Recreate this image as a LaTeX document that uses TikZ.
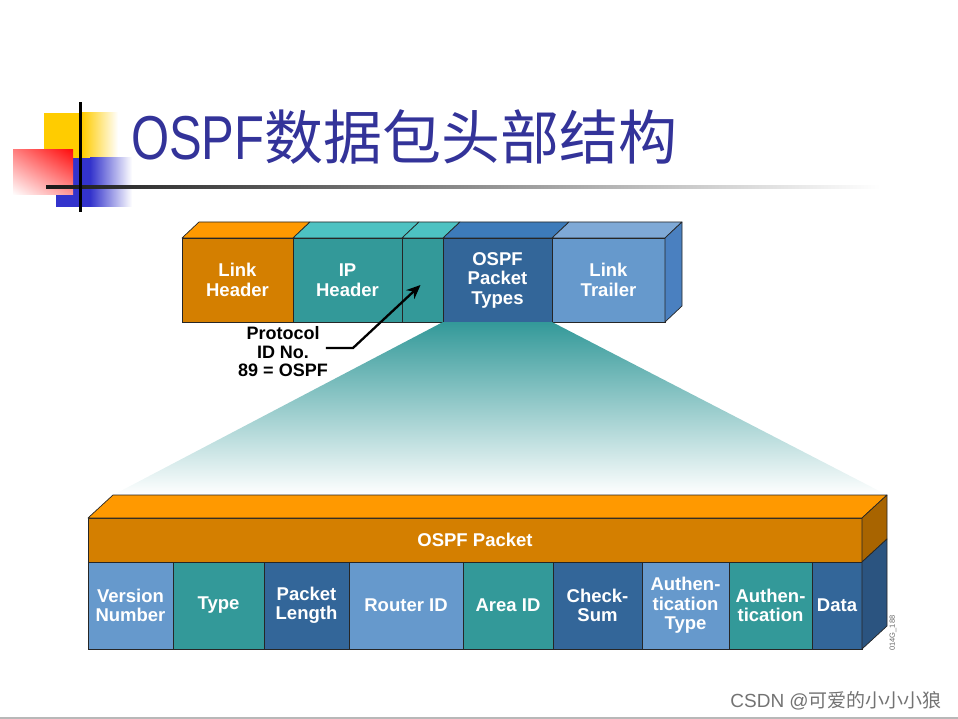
\documentclass[tikz,border=0pt]{standalone}
\usepackage{fontspec}
\setmainfont{Liberation Sans}
\newfontfamily\cjkfont{Noto Sans CJK SC}
\usepackage{graphicx}
\usepackage{tikz}
\usetikzlibrary{arrows.meta,shadings}

\definecolor{ttlblue}{HTML}{333399}
\definecolor{ylw}{HTML}{FFCC00}
\definecolor{blu}{HTML}{3333CC}
\definecolor{orgfront}{HTML}{D47F00}
\definecolor{orgtop}{HTML}{FF9900}
\definecolor{orgside}{HTML}{A86400}
\definecolor{tealfront}{HTML}{339999}
\definecolor{tealtop}{HTML}{4DC2C2}
\definecolor{dbluefront}{HTML}{336699}
\definecolor{dbluetop}{HTML}{3D7BBA}
\definecolor{dblueside}{HTML}{2B5480}
\definecolor{mbluefront}{HTML}{6699CC}
\definecolor{mbluetop}{HTML}{7FA9D6}
\definecolor{mblueside}{HTML}{4A80C0}

\newcommand{\lblfont}{\fontsize{18.5}{19.5}\selectfont\bfseries}
% box faces drawn from the corners of a front node
\newcommand{\topface}[4]{%
  \filldraw[face, fill=#2] (#1.north west) -- ++(#3,#4) -- ([shift={(#3,#4)}]#1.north east) -- (#1.north east) -- cycle;}
\newcommand{\sideface}[4]{%
  \filldraw[face, fill=#2] (#1.north east) -- ++(#3,#4) -- ([shift={(#3,#4)}]#1.south east) -- (#1.south east) -- cycle;}

\tikzset{
  face/.style={draw=black!85, line width=0.7pt, line join=round},
  toppart/.style={draw=black!85, line width=0.7pt, outer sep=0pt, inner sep=0pt, minimum height=84pt, align=center, text=white, font=\lblfont},
  field/.style={draw=black!85, line width=0.7pt, outer sep=0pt, inner sep=0pt, minimum height=87pt, align=center, text=white, font=\lblfont},
  band/.style={draw=black!85, line width=0.7pt, outer sep=0pt, inner sep=0pt, minimum height=44pt, text=white, font=\lblfont},
  note/.style={align=center, inner sep=0pt, font=\fontsize{18}{18.5}\selectfont\bfseries},
  ptr/.style={-{Stealth[length=14pt, width=12pt]}, line width=2.3pt, line join=miter}
}

\begin{document}
\begin{tikzpicture}[x=1pt,y=-1pt]
  \useasboundingbox (0,0) rectangle (958,719);

  % title decoration
  \fill[ylw] (44,113) rectangle (82,158);
  \shade[left color=ylw, right color=white] (82,113) rectangle (118,158);
  \fill[blu] (56,158) rectangle (90,207);
  \shade[left color=blu, right color=white] (90,158) rectangle (132,207);
  \shade[upper right=red!95, upper left=red!50, lower right=red!40, lower left=white] (13,150) rectangle (73,195);
  \shade[left color=black!90, middle color=black!50, right color=white] (46,185.5) rectangle (880,188.5);
  \fill[black] (79,102) rectangle (82,212);
  \node[anchor=base west, inner sep=0pt, text=ttlblue] (title) at (131,160)
    {\fontsize{62}{62}\selectfont\scalebox{0.79}[1]{OSPF}\fontsize{59}{59}\cjkfont 数据包头部结构};

  % upper frame
  \node[toppart, fill=orgfront, minimum width=111pt] (lhdr) at (237.5,280) {Link\\Header};
  \node[toppart, fill=tealfront, minimum width=109pt] (iphdr) at (347.5,280) {IP\\Header};
  \node[toppart, fill=tealfront, minimum width=41pt] (pfld) at (422.5,280) {};
  \node[toppart, fill=dbluefront, minimum width=109pt] (ospft) at (497.5,280) {OSPF\\Packet\\Types};
  \node[toppart, fill=mbluefront, minimum width=113pt] (ltrl) at (608.5,280) {Link\\Trailer};

  % lower frame
  \node[band, fill=orgfront, minimum width=774pt] (pkt) at (475,540) {OSPF Packet};
  \node[field, fill=mbluefront, minimum width=85pt] (ver) at (130.5,605.5) {Version\\Number};
  \node[field, fill=tealfront, minimum width=91pt] (typ) at (218.5,605.5) {Type};
  \node[field, fill=dbluefront, minimum width=85pt] (plen) at (306.5,605.5) {Packet\\Length};
  \node[field, fill=mbluefront, minimum width=114pt] (rid) at (406,605.5) {Router ID};
  \node[field, fill=tealfront, minimum width=90pt] (aid) at (508,605.5) {Area ID};
  \node[field, fill=dbluefront, minimum width=89pt] (csum) at (597.5,605.5) {Check-\\Sum};
  \node[field, fill=mbluefront, minimum width=87pt] (atype) at (685.5,605.5) {Authen-\\tication\\Type};
  \node[field, fill=tealfront, minimum width=83pt] (auth) at (770.5,605.5) {Authen-\\tication};
  \node[field, fill=dbluefront, minimum width=50pt] (dat) at (837,605.5) {Data};

  % zoom fan
  \shade[top color=tealfront, bottom color=white]
    (ospft.south west) -- (ospft.south east) -- ([shift={(25,-23)}]pkt.north east) -- ([shift={(25,-23)}]pkt.north west) -- cycle;

  \topface{lhdr}{orgtop}{17}{-16}
  \topface{iphdr}{tealtop}{17}{-16}
  \topface{pfld}{tealtop}{17}{-16}
  \topface{ospft}{dbluetop}{17}{-16}
  \topface{ltrl}{mbluetop}{17}{-16}
  \sideface{ltrl}{mblueside}{17}{-16}

  \topface{pkt}{orgtop}{25}{-23}
  \sideface{pkt}{orgside}{25}{-23}
  \sideface{dat}{dblueside}{25}{-23}

  % protocol pointer
  \node[note] (proto) at (283,352) {Protocol\\ID No.\\89 = OSPF};
  \coordinate (bend) at (353,348);
  \coordinate (tip) at ([shift={(-2,5)}]pfld.center);
  \draw[ptr] ([shift={(-2,-4)}]proto.east) -- (bend) -- (tip);

  \node[rotate=90, inner sep=0pt, text=black!60, font=\fontsize{7.5}{7.5}\selectfont] (code) at (893,633) {014G\_188};

  % footer
  \node[anchor=base east, inner sep=0pt, text=black!55] (wm) at (942,707)
    {\fontsize{19}{19}\selectfont CSDN @{\cjkfont 可爱的小小小狼}};
  \draw[black!28, line width=2pt] (0,718) -- (958,718);
\end{tikzpicture}
\end{document}
